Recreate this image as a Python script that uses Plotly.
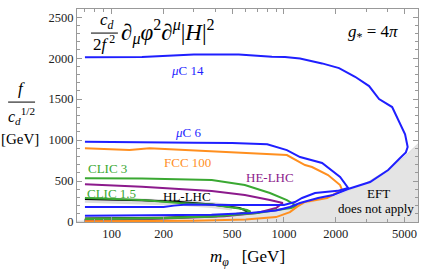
import plotly.graph_objects as go

# ---- data (m_phi [GeV], f/c_d^{1/2} [GeV]) ----
muc14_m = [70, 150, 300, 547, 851, 1014, 1239, 1665, 2089, 2588, 3120, 3565, 4246, 5047, 5224, 5100, 4722, 4027, 3162, 2357, 1928, 1578, 1239, 1083, 900, 634, 380, 200, 70]
muc14_f = [2010, 2015, 2045, 2045, 2017, 2013, 1997, 1936, 1879, 1773, 1659, 1501, 1403, 1070, 915, 850, 781, 634, 488, 403, 329, 293, 232, 183, 140, 110, 90, 82, 77]

muc6_m = [70, 150, 300, 500, 800, 1040, 1240, 1665, 2118, 2357, 2050, 1515, 1274, 1158, 1000, 500, 273, 230, 200, 70]
muc6_f = [980, 978, 968, 965, 950, 878, 793, 720, 549, 415, 380, 354, 293, 244, 207, 207, 215, 200, 183, 183]

fcc_m = [70, 100, 127, 166, 250, 381, 518, 1040, 1325, 1455, 1803, 2118, 2175, 2033, 1779, 1325, 1200, 1083, 900, 600, 300, 70]
fcc_f = [899, 890, 880, 899, 880, 866, 854, 817, 695, 671, 573, 451, 390, 354, 293, 244, 190, 120, 60, 30, 15, 8]

clic3_m = [70, 150, 381, 593, 829, 1040, 1190, 1100, 910, 700, 400, 200, 70]
clic3_f = [533, 530, 512, 451, 354, 268, 195, 170, 146, 110, 70, 45, 37]

helhc_m = [70, 150, 381, 593, 829, 985, 900, 697, 450, 248, 120, 70]
helhc_f = [460, 430, 378, 329, 268, 232, 170, 110, 70, 49, 25, 15]

clic15_m = [70, 150, 248, 381, 550, 611, 640, 550, 400, 200, 70]
clic15_f = [293, 270, 232, 215, 165, 146, 125, 100, 70, 50, 40]

hllhc_m = [70, 150, 248, 381, 550, 634, 560, 400, 200, 70]
hllhc_f = [280, 265, 244, 215, 170, 126, 105, 72, 52, 42]

hlband_m = [70, 150, 248, 381, 500]
hlband_f = [272, 257, 236, 208, 178]

eft_m = [63, 500, 1000, 2000, 3000, 4000, 5000, 6100]
eft_f = [10, 80, 159, 318, 477, 637, 796, 970]

x_ticks = [100, 200, 500, 1000, 2000, 5000]
x_ticktext = ["100", "200", "500", "1000", "2000", "5000"]
x_minor = [70, 80, 90, 300, 400, 600, 700, 800, 900, 3000, 4000, 6000]
y_ticks = [0, 500, 1000, 1500, 2000, 2500]

BLUE = "#1f1fff"
ORANGE = "#ff8f1f"
GREEN = "#3aa832"
PURPLE = "#8c1a8c"
SERIF = "Liberation Serif"

fig = go.Figure()

# EFT not applicable region
fig.add_trace(go.Scatter(x=eft_m, y=eft_f, mode="lines", fill="tozeroy",
                         fillcolor="#e4e4e4", line=dict(color="#cfcfcf", width=0.6),
                         hoverinfo="skip", showlegend=False))

def curve(xs, ys, color, width=2.0):
    fig.add_trace(go.Scatter(x=xs, y=ys, mode="lines",
                             line=dict(color=color, width=width),
                             showlegend=False))

# uncertainty band for HL-LHC
fig.add_trace(go.Scatter(x=hlband_m, y=hlband_f, mode="lines",
                         line=dict(color="rgba(170,170,170,0.4)", width=6),
                         showlegend=False))
curve(hllhc_m, hllhc_f, "black")
curve(helhc_m, helhc_f, PURPLE)
curve(clic3_m, clic3_f, GREEN)
curve(fcc_m, fcc_f, ORANGE)
curve(clic15_m, clic15_f, GREEN)
curve(muc6_m, muc6_f, BLUE)
curve(muc14_m, muc14_f, BLUE)

ann = []
def txt(x, y, s, color="black", size=13, xanchor="center", yanchor="middle"):
    ann.append(dict(x=x, y=y, xref="paper", yref="paper", text=s, showarrow=False,
                    font=dict(family=SERIF, size=size, color=color),
                    xanchor=xanchor, yanchor=yanchor))

txt(0.3226, 0.709, "<i>μ</i>C 14", BLUE)
txt(0.3255, 0.418, "<i>μ</i>C 6", BLUE)
txt(0.3255, 0.277, "FCC 100", ORANGE)
txt(0.088, 0.249, "CLIC 3", GREEN)
txt(0.1026, 0.136, "CLIC 1.5", GREEN)
txt(0.3226, 0.122, "HL-LHC", "black")
txt(0.566, 0.2066, "HE-LHC", PURPLE)
txt(0.8827, 0.1315, "EFT", "black", 13)
txt(0.877, 0.0657, "does not apply", "black", 13)
txt(0.868, 0.887, "<i>g</i><sub>*</sub> = 4<i>π</i>", "black", 17)

# formula at top-left
txt(0.087, 0.945, "<i>c</i><sub><i>d</i></sub>", "black", 17)
txt(0.080, 0.842, "2<i>f</i><sup> 2</sup>", "black", 17)
txt(0.124, 0.892, "∂<sub><i>μ</i></sub><i>φ</i><sup>2</sup>∂<sup><i>μ</i></sup>|<i>H</i>|<sup>2</sup>",
    "black", 23, xanchor="left")

# y axis title
txt(-0.164, 0.625, "<i>f</i>", "black", 17)
txt(-0.164, 0.500, "<i>c</i><sub><i>d</i></sub><sup>1/2</sup>", "black", 16)
txt(-0.167, 0.390, "[GeV]", "black", 15)

# x axis title
txt(0.501, -0.169, "<i>m</i><sub><i>φ</i></sub>   [GeV]", "black", 17)

shapes = [
    dict(type="line", xref="paper", yref="paper", x0=0.041, x1=0.120, y0=0.887, y1=0.887,
         line=dict(color="black", width=1)),
    dict(type="line", xref="paper", yref="paper", x0=-0.202, x1=-0.123, y0=0.563, y1=0.563,
         line=dict(color="black", width=1)),
]

axis_common = dict(showgrid=False, zeroline=False, showline=True, linecolor="#999",
                   linewidth=1, mirror="allticks", ticks="inside", ticklen=5,
                   tickcolor="#999", tickfont=dict(family=SERIF, size=12.5, color="#222"))

fig.update_layout(
    width=424, height=270,
    margin=dict(l=77, r=6, t=9, b=48),
    plot_bgcolor="white", paper_bgcolor="white",
    annotations=ann, shapes=shapes,
    xaxis=dict(type="log", range=[1.799, 3.778], tickvals=x_ticks, ticktext=x_ticktext,
               minor=dict(tickvals=x_minor, ticks="inside", ticklen=3, tickcolor="#999"),
               **axis_common),
    yaxis=dict(range=[0, 2600], tickvals=y_ticks,
               minor=dict(dtick=100, ticks="inside", ticklen=3, tickcolor="#999"),
               **axis_common),
)

fig.write_html("out.html", config={"displayModeBar": False},
               post_script="document.body.style.margin='0px';")
